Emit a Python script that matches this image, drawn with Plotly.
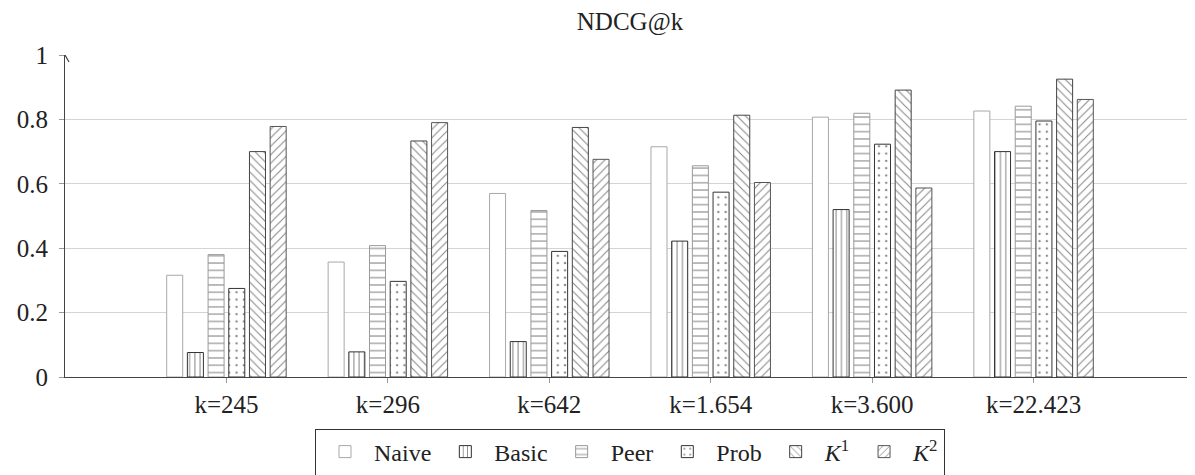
import plotly.graph_objects as go

categories = ["k=245", "k=296", "k=642", "k=1.654", "k=3.600", "k=22.423"]
naive = [0.316, 0.357, 0.570, 0.715, 0.807, 0.826]
basic = [0.076, 0.078, 0.110, 0.422, 0.520, 0.700]
peer = [0.380, 0.408, 0.517, 0.656, 0.819, 0.841]
prob = [0.275, 0.297, 0.390, 0.574, 0.723, 0.795]
k1 = [0.700, 0.733, 0.775, 0.813, 0.891, 0.925]
k2 = [0.778, 0.790, 0.676, 0.604, 0.587, 0.862]

series_names = ["Naive", "Basic", "Peer", "Prob", "<i>K</i><sup>1</sup>", "<i>K</i><sup>2</sup>"]
series_vals = [naive, basic, peer, prob, k1, k2]
styles = [
    dict(shape="", size=8, solidity=0.2, line="#a8a8a8"),
    dict(shape="|", size=5.3, solidity=0.2, line="#333333"),
    dict(shape="-", size=7.3, solidity=0.15, line="#9a9a9a"),
    dict(shape=".", size=7.3, solidity=0.09, line="#333333"),
    dict(shape="\\", size=6, solidity=0.18, line="#444444"),
    dict(shape="/", size=6, solidity=0.18, line="#555555"),
]

FONT = "Liberation Serif"
fig = go.Figure()
for name, vals, st in zip(series_names, series_vals, styles):
    fig.add_trace(go.Bar(
        x=categories, y=vals, name=name,
        marker=dict(
            color="white",
            line=dict(color=st["line"], width=1),
            pattern=dict(shape=st["shape"], size=st["size"], solidity=st["solidity"],
                         fgcolor="#111111", bgcolor="white", fillmode="overlay"),
        ),
    ))

fig.update_layout(
    width=1195, height=475,
    margin=dict(l=57, r=8, t=47, b=102),
    paper_bgcolor="white", plot_bgcolor="white",
    barmode="group", bargap=0.231, bargroupgap=0.226,
    font=dict(family=FONT, size=25, color="#222222"),
    title=dict(text="NDCG@k", x=0.5, xanchor="center", xref="paper",
               y=1 - 4 / 475, yanchor="top", font=dict(family=FONT, size=25)),
    showlegend=True,
    legend=dict(orientation="h", x=0.5, xanchor="center", y=-0.16, yanchor="top",
                bordercolor="#333333", borderwidth=1, font=dict(family=FONT, size=24),
                itemwidth=48, tracegroupgap=0),
    xaxis=dict(type="category", range=[-1, 6], showgrid=False, showline=True,
               linecolor="#444444", linewidth=1, ticks="outside", ticklen=5,
               tickcolor="#999999", zeroline=False, tickfont=dict(family=FONT, size=25)),
    yaxis=dict(range=[0, 1], dtick=0.2, tick0=0, showgrid=True, gridcolor="#d4d4d4",
               gridwidth=1, showline=True, linecolor="#444444", linewidth=1,
               ticks="outside", ticklen=5, tickcolor="#999999", zeroline=False,
               ticklabelstandoff=6, tickfont=dict(family=FONT, size=25)),
)

fig.add_shape(type="path", xref="x", yref="y", xsizemode="pixel", ysizemode="pixel",
              xanchor=6, yanchor=0, path="M -7 4 L 0 0 L -7 -4",
              line=dict(color="#444444", width=1.2))
fig.add_shape(type="path", xref="x", yref="y", xsizemode="pixel", ysizemode="pixel",
              xanchor=-1, yanchor=1, path="M -4 -7 L 0 0 L 4 -7",
              line=dict(color="#444444", width=1.2))

fig.write_html("out.html")
